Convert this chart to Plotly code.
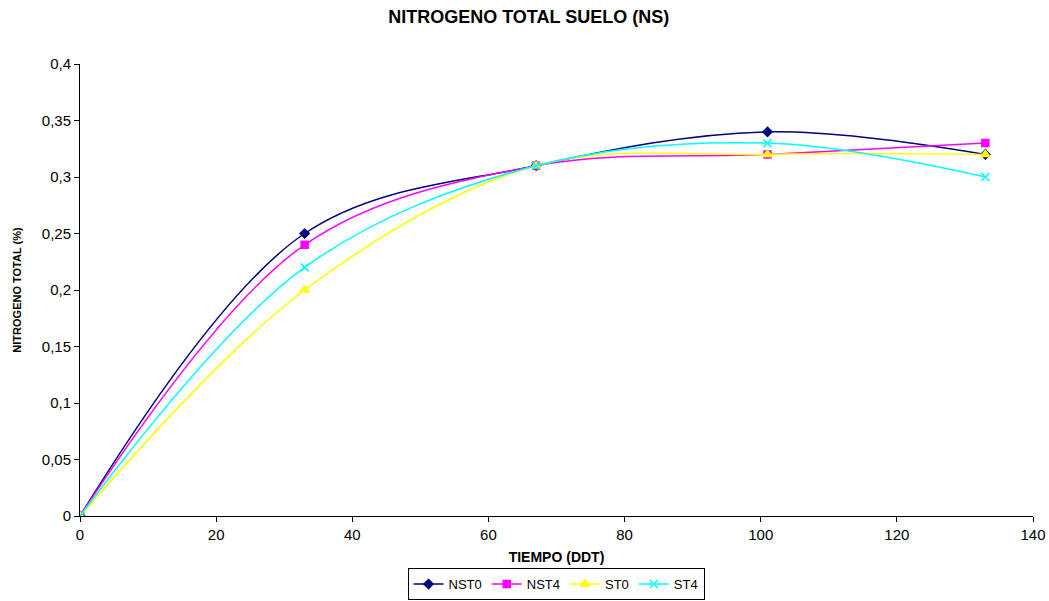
import plotly.graph_objects as go

# Days after transplant (DDT)
tiempo = [0, 33, 67, 101, 133]

# Total soil nitrogen (%) per treatment
nst0 = [0, 0.25, 0.31, 0.34, 0.32]
nst4 = [0, 0.24, 0.31, 0.32, 0.33]
st0 = [0, 0.20, 0.31, 0.32, 0.32]
st4 = [0, 0.22, 0.31, 0.33, 0.30]

series = [
    ("NST0", nst0, "#000080", "diamond", 7),
    ("NST4", nst4, "#FF00FF", "square", 7),
    ("ST0", st0, "#FFFF00", "triangle-up", 8),
    ("ST4", st4, "#00FFFF", "x-thin", 8),
]

fig = go.Figure()
for name, vals, color, symbol, size in series:
    fig.add_trace(go.Scatter(
        x=tiempo, y=vals, name=name, mode="lines+markers",
        line=dict(color=color, width=1.5, shape="spline", smoothing=1),
        marker=dict(symbol=symbol, size=size, color=color,
                    line=dict(color=color, width=1.5)),
    ))

font_family = "Liberation Sans, Arial, sans-serif"

fig.update_layout(
    width=1049, height=601,
    separators=", ",
    paper_bgcolor="white", plot_bgcolor="white",
    margin=dict(l=80, r=16, t=64, b=85, autoexpand=False),
    font=dict(family=font_family, size=15, color="black"),
    title=dict(text="<b>NITROGENO TOTAL SUELO (NS)</b>", x=0.504, xanchor="center",
               y=0.972, yanchor="middle", font=dict(size=18)),
    xaxis=dict(
        range=[0, 140], dtick=20, showgrid=False, zeroline=False, automargin=False,
        showline=True, linecolor="black", linewidth=1,
        ticks="outside", ticklen=5, tickcolor="black",
        title=dict(text="<b>TIEMPO (DDT)</b>", font=dict(size=14), standoff=10),
    ),
    yaxis=dict(
        range=[0, 0.4], dtick=0.05, showgrid=False, zeroline=False, automargin=False,
        showline=True, linecolor="black", linewidth=1,
        ticks="outside", ticklen=5, tickcolor="black",
        title=dict(text="<b>NITROGENO TOTAL (%)</b>", font=dict(size=11), standoff=17),
    ),
    legend=dict(
        orientation="h", x=0.4995, xanchor="center", y=-0.186, yanchor="bottom",
        bordercolor="black", borderwidth=1, font=dict(size=13),
        tracegroupgap=0,
    ),
    showlegend=True,
)

fig.write_html("out.html")
